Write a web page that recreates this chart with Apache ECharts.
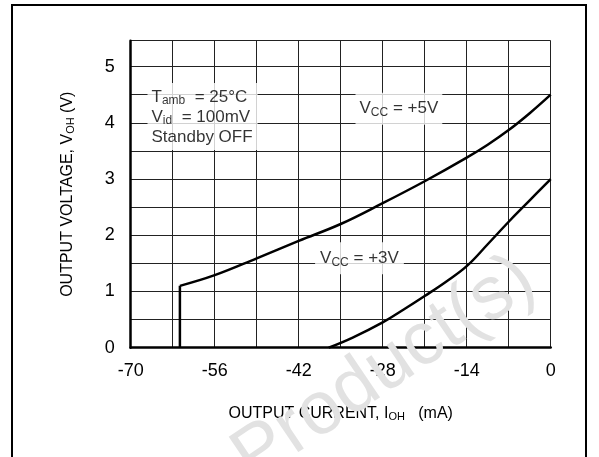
<!DOCTYPE html>
<html><head><meta charset="utf-8">
<script src="https://cdn.jsdelivr.net/npm/echarts@6/dist/echarts.min.js"></script>
<style>html,body{margin:0;padding:0;background:#fff}#c{width:599px;height:457px}</style>
</head><body><div id="c"></div>
<script>
// Tick labels
const xTickLabels = [-70, -56, -42, -28, -14, 0];
const yTickLabels = [0, 1, 2, 3, 4, 5];
// VCC = +5V : vertical step then curve
const vcc5StepX = [-61.8, -61.8];
const vcc5StepY = [0, 1.1];
const vcc5X = [-61.8, -56, -49, -42, -35, -28, -21, -14, -10.5, -7, -3.5, 0];
const vcc5Y = [1.1, 1.29, 1.59, 1.9, 2.2, 2.57, 2.96, 3.38, 3.61, 3.87, 4.17, 4.5];
// VCC = +3V
const vcc3X = [-37, -33, -28, -24.5, -21, -17.5, -14, -10.5, -7, -3.5, 0];
const vcc3Y = [0, 0.18, 0.45, 0.68, 0.92, 1.17, 1.45, 1.84, 2.24, 2.62, 3.0];

const F = '"Liberation Sans", Arial, sans-serif';
const zip = (xs, ys) => xs.map((x, i) => [x, ys[i]]);
const isTick = (v, arr) => arr.some(t => Math.abs(t - v) < 1e-6);

const richBase = {
  n: {fontSize: 17, fontFamily: F, color: '#000', lineHeight: 20},
  s: {fontSize: 12, fontFamily: F, color: '#000', verticalAlign: 'bottom', lineHeight: 12}
};
const titleRich = {
  n: {fontSize: 16, fontFamily: F, color: '#000', lineHeight: 18},
  s: {fontSize: 11, fontFamily: F, color: '#000', verticalAlign: 'bottom', lineHeight: 11}
};

const chart = echarts.init(document.getElementById('c'));
const lineStyle = {color: '#000', width: 2.5};
chart.setOption({
  animation: false,
  backgroundColor: '#fff',
  grid: {left: 130.7, top: 40.7, right: 48.3, bottom: 109.3},
  xAxis: {
    type: 'value', min: -70, max: 0, interval: 7,
    axisLine: {show: true, onZero: false, lineStyle: {color: '#000', width: 2.5}},
    axisTick: {show: false},
    axisLabel: {color: '#000', fontSize: 18, fontFamily: F, margin: 14,
      formatter: v => isTick(v, xTickLabels) ? String(Math.round(v)) : ''},
    splitLine: {show: true, lineStyle: {color: '#222', width: 1}},
    name: '{n|OUTPUT CURRENT, I}{s|OH}{n|   (mA)}',
    nameLocation: 'middle', nameGap: 57,
    nameTextStyle: {rich: titleRich}
  },
  yAxis: {
    type: 'value', min: 0, max: 5.46, interval: 0.5,
    axisLine: {show: true, onZero: false, lineStyle: {color: '#000', width: 2.5}},
    axisTick: {show: false},
    axisLabel: {color: '#000', fontSize: 18, fontFamily: F, margin: 16,
      formatter: v => isTick(v, yTickLabels) ? String(Math.round(v)) : ''},
    splitLine: {show: true, lineStyle: {color: '#222', width: 1}},
    name: '{n|OUTPUT VOLTAGE, V}{s|OH}{n| (V)}',
    nameLocation: 'middle', nameGap: 54,
    nameTextStyle: {rich: titleRich}
  },
  series: [
    {type: 'line', data: zip(vcc5StepX, vcc5StepY), symbol: 'none', lineStyle, z: 5},
    {type: 'line', data: zip(vcc5X, vcc5Y), symbol: 'none', smooth: 0.4, lineStyle, z: 5},
    {type: 'line', data: zip(vcc3X, vcc3Y), symbol: 'none', smooth: 0.4, lineStyle, z: 5},
    {
      type: 'scatter', symbolSize: 1, itemStyle: {color: 'rgba(0,0,0,0)'}, z: 6,
      data: [
        {value: [-67.28, 4.11], label: {show: true, position: 'right', distance: 0,
          backgroundColor: '#fff', padding: [4, 5, 3, 4], rich: richBase,
          formatter: '{n|T}{s|amb}{n|  = 25°C}\n{n|V}{s|id}{n|  = 100mV}\n{n|Standby OFF}'}},
        {value: [-25.3, 4.25], label: {show: true, position: 'inside',
          backgroundColor: '#fff', padding: [6, 4], rich: richBase,
          formatter: '{n|V}{s|CC}{n| = +5V}'}},
        {value: [-31.87, 1.59], label: {show: true, position: 'inside',
          backgroundColor: '#fff', padding: [6, 5], rich: richBase,
          formatter: '{n|V}{s|CC}{n| = +3V}'}}
      ]
    }
  ],
  graphic: [
    {type: 'rect', shape: {x: 12, y: 5, width: 574, height: 470},
      style: {fill: 'none', stroke: '#000', lineWidth: 2}, z: 100, silent: true},
    {type: 'text', x: 262, y: 497, rotation: 0.593, z: 101, silent: true,
      style: {text: 'Product(s)', font: '75px "Liberation Sans", Arial, sans-serif',
        fill: '#e2e2e2', align: 'left', verticalAlign: 'bottom'}}
  ]
});
</script></body></html>
